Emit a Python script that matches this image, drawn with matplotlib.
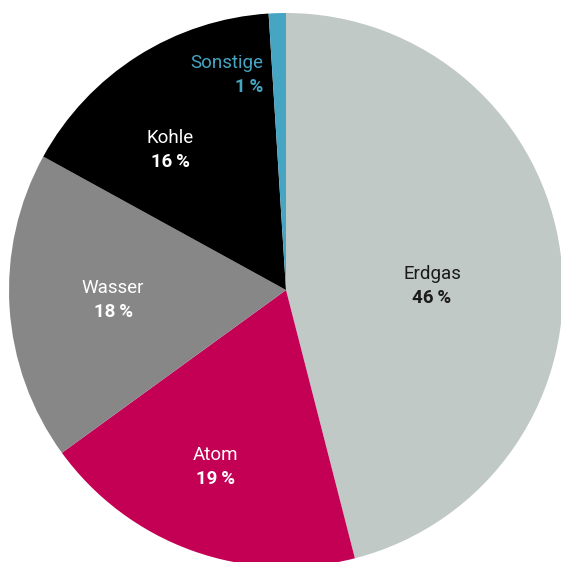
import matplotlib
matplotlib.use("Agg")
import matplotlib.pyplot as plt

# Energy mix shares (percent)
categories = ["Erdgas", "Atom", "Wasser", "Kohle", "Sonstige"]
shares = [46, 19, 18, 16, 1]
colors = ["#C1C9C7", "#C40055", "#878787", "#000000", "#46A5C2"]
text_colors = ["#1a1a1a", "#ffffff", "#ffffff", "#ffffff", "#46A5C2"]

# label anchor (pixel coordinates of figure, x, y of name line) and alignment
label_pos = [(432, 274), (215, 455), (113, 288), (170, 138), (263, 63)]
label_ha = ["center", "center", "center", "center", "right"]

W, H = 561, 562
cx, cy, R = 286, 290, 277

plt.rcParams["font.family"] = ["Roboto", "DejaVu Sans"]
fig = plt.figure(figsize=(W / 100, H / 100), dpi=100)
ax = fig.add_axes([0, 0, 1, 1])

ax.pie(shares, colors=colors, startangle=90, counterclock=False,
       radius=1, center=(0, 0), wedgeprops=dict(linewidth=0))

ax.set_xlim(-cx / R, (W - cx) / R)
ax.set_ylim(-(H - cy) / R, cy / R)
ax.set_aspect("equal")
ax.axis("off")

def to_data(px, py):
    return (px - cx) / R, (cy - py) / R

for name, val, tc, (px, py), ha in zip(categories, shares, text_colors, label_pos, label_ha):
    x, y = to_data(px, py)
    ax.text(x, y, name, color=tc, ha=ha, va="center", fontsize=13.5)
    x2, y2 = to_data(px, py + 24)
    ax.text(x2, y2, f"{val}\u2009%", color=tc, ha=ha, va="center",
            fontsize=13.5, fontweight="bold")

fig.savefig("out.png", dpi=100)
